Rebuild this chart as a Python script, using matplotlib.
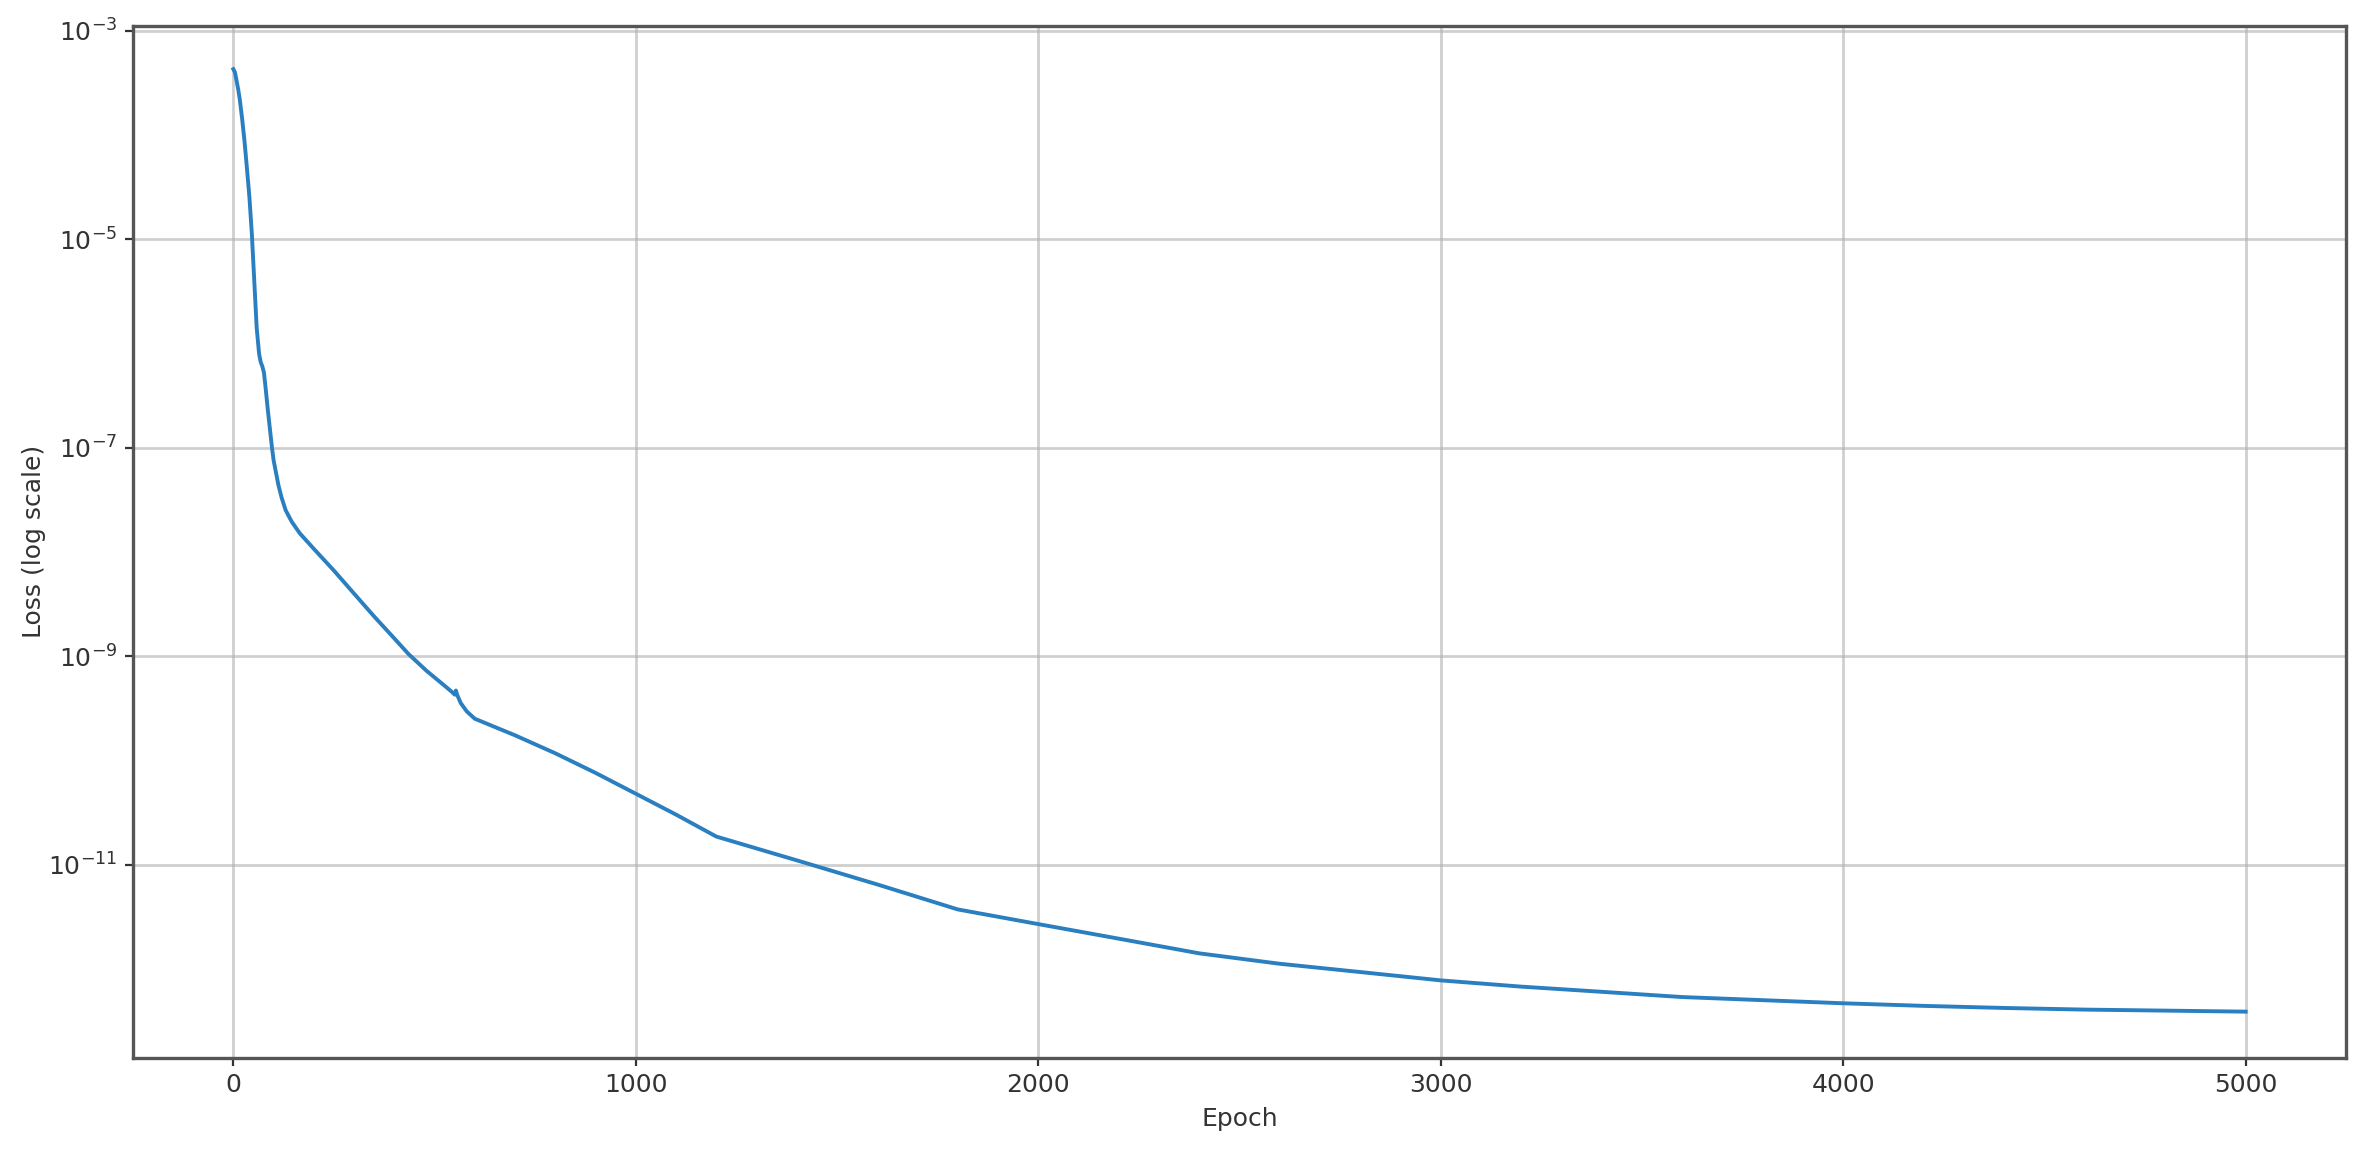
import matplotlib
matplotlib.use("Agg")
import matplotlib.pyplot as plt

# ── Training loss (epoch, loss) ──
epochs = [0, 4, 8, 12, 16, 22, 28, 34, 40, 46, 52, 58, 64, 68, 72, 76, 80, 86,
          92, 96, 100, 106, 112, 120, 130, 145, 165, 200, 250, 300, 350, 400,
          435, 480, 530, 545, 550, 553, 556, 565, 580, 600, 700, 800, 900,
          1000, 1100, 1200, 1400, 1600, 1800, 2000, 2200, 2400, 2600, 2800,
          3000, 3200, 3400, 3600, 4000, 4200, 4400, 4600, 4800, 5000]

loss = [4.27e-4, 3.98e-4, 3.31e-4, 2.75e-4, 2.19e-4, 1.41e-4, 8.51e-5, 4.68e-5,
        2.51e-5, 1.12e-5, 3.98e-6, 1.41e-6, 7.94e-7, 6.61e-7, 6.03e-7, 5.25e-7,
        3.80e-7, 2.24e-7, 1.38e-7, 1.00e-7, 7.59e-8, 5.75e-8, 4.37e-8, 3.31e-8,
        2.51e-8, 1.95e-8, 1.51e-8, 1.07e-8, 6.61e-9, 3.98e-9, 2.40e-9, 1.48e-9,
        1.05e-9, 7.24e-10, 5.01e-10, 4.47e-10, 4.27e-10, 4.68e-10, 4.27e-10,
        3.55e-10, 2.95e-10, 2.51e-10, 1.74e-10, 1.17e-10, 7.59e-11, 4.79e-11,
        3.02e-11, 1.86e-11, 1.10e-11, 6.46e-12, 3.72e-12, 2.69e-12, 1.95e-12,
        1.41e-12, 1.12e-12, 9.33e-13, 7.76e-13, 6.76e-13, 6.03e-13, 5.37e-13,
        4.68e-13, 4.42e-13, 4.22e-13, 4.07e-13, 3.98e-13, 3.89e-13]

x_ticks = [0, 1000, 2000, 3000, 4000, 5000]
y_ticks = [1e-3, 1e-5, 1e-7, 1e-9, 1e-11]


fig = plt.figure(figsize=(11.85, 5.8), dpi=200)
ax = fig.add_axes([0.056, 0.088, 0.934, 0.890])

ax.semilogy(epochs, loss, color="#2a7fc1", linewidth=1.4)

ax.set_xticks(x_ticks)
ax.set_yticks(y_ticks)
ax.minorticks_off()
ax.set_ylim(1.4e-13, 1.12e-3)

ax.set_xlabel("Epoch", fontsize=9, color="#333333")
ax.set_ylabel("Loss (log scale)", fontsize=9, color="#333333")
ax.xaxis.set_label_coords(0.5, -0.048)
ax.yaxis.set_label_coords(-0.039, 0.5)
ax.tick_params(labelsize=9, colors="#333333", pad=2.5, length=3)
ax.grid(True, which="major", color="#b0b0b0", alpha=0.6, linewidth=1.0)

for sp in ax.spines.values():
    sp.set_color("#555555")
    sp.set_linewidth(1.2)

fig.savefig("out.png", dpi=200)
